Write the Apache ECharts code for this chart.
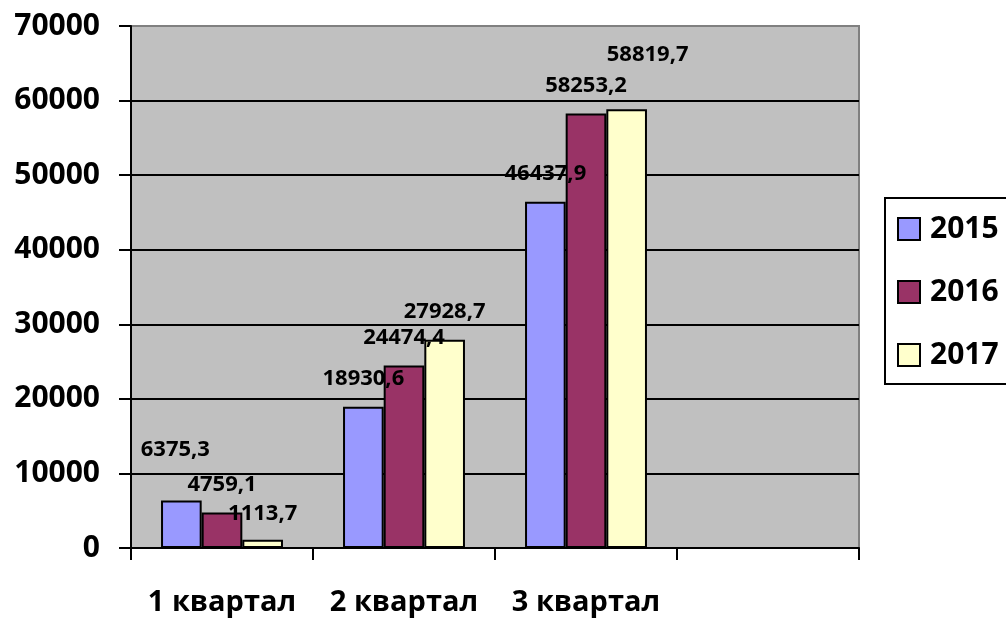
<!DOCTYPE html>
<html>
<head>
<meta charset="utf-8">
<script src="https://cdn.jsdelivr.net/npm/echarts@6/dist/echarts.min.js"></script>
<style>
html,body{margin:0;padding:0;background:#fff;}
#c{width:1006px;height:621px;}
</style>
</head>
<body>
<div id="c"></div>
<script>
const categories = ['1 квартал', '2 квартал', '3 квартал', ''];
const seriesNames = ['2015', '2016', '2017'];
const values2015 = [6375.3, 18930.6, 46437.9, null];
const values2016 = [4759.1, 24474.4, 58253.2, null];
const values2017 = [1113.7, 27928.7, 58819.7, null];
const yTicks = { min: 0, max: 70000, interval: 10000 };
const colors = ['#9999ff', '#993366', '#ffffcc'];

// per-label placement tweaks (Excel label layout), indexed [series][category] -> [dx, dy]
const labelOffsets = [
  [[-6, -23], [0, 0], [0, 0], [0, 0]],
  [[0, 0], [0, 0], [0, 0], [0, 0]],
  [[0, 2], [0, 0], [21, -27], [0, 0]]
];

const FONT = '"Open Sans", "Noto Sans", sans-serif';

function fmt(v) { return v.toFixed(1).replace('.', ','); }

const allValues = [values2015, values2016, values2017];
const series = allValues.map((vals, si) => ({
  name: seriesNames[si],
  type: 'bar',
  barGap: '0%',
  barCategoryGap: '33%',
  itemStyle: { color: colors[si], borderColor: '#000', borderWidth: 2 },
  data: vals.map((v, ci) => ({
    value: v,
    label: { offset: labelOffsets[si][ci] }
  })),
  label: {
    show: true,
    position: 'top',
    distance: 18,
    color: '#000',
    fontFamily: FONT,
    fontWeight: 'bold',
    fontSize: 22,
    lineHeight: 20,
    formatter: p => (p.value == null ? '' : fmt(p.value))
  }
}));

const chart = echarts.init(document.getElementById('c'));
chart.setOption({
  animation: false,
  backgroundColor: '#ffffff',
  grid: {
    left: 131, right: 147, top: 26, bottom: 73,
    show: true,
    backgroundColor: '#c0c0c0',
    borderColor: '#808080',
    borderWidth: 2
  },
  legend: {
    left: 885,
    top: 198,
    orient: 'vertical',
    itemWidth: 22,
    itemHeight: 22,
    itemGap: 33,
    padding: [16, 24, 14, 12],
    borderColor: '#000',
    borderWidth: 2,
    icon: 'rect',
    textStyle: {
      fontFamily: FONT, fontWeight: 'bold', fontSize: 30, color: '#000',
      lineHeight: 22, padding: [0, 0, 0, 5]
    },
    data: seriesNames
  },
  xAxis: {
    type: 'category',
    data: categories,
    boundaryGap: true,
    axisLine: { lineStyle: { color: '#000', width: 2 } },
    axisTick: { show: true, length: 12, lineStyle: { color: '#000', width: 2 }, interval: 0 },
    axisLabel: {
      interval: 0, margin: 40,
      fontFamily: FONT, fontWeight: 'bold', fontSize: 29, color: '#000'
    },
    splitLine: { show: false }
  },
  yAxis: {
    type: 'value',
    min: yTicks.min, max: yTicks.max, interval: yTicks.interval,
    axisLine: { show: true, lineStyle: { color: '#000', width: 2 } },
    axisTick: { show: true, length: 12, lineStyle: { color: '#000', width: 2 } },
    axisLabel: {
      margin: 31,
      formatter: v => String(v),
      fontFamily: FONT, fontWeight: 'bold', fontSize: 30, color: '#000'
    },
    splitLine: { show: true, showMaxLine: false, lineStyle: { color: '#000', width: 2 } }
  },
  series: series
});
</script>
</body>
</html>
